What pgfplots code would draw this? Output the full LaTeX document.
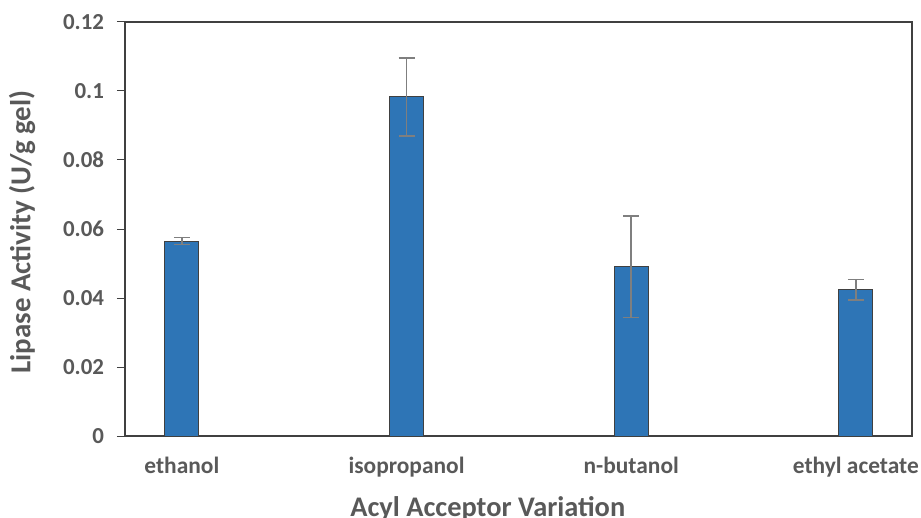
\documentclass[border=0pt]{standalone}
\usepackage{fontspec}
\setmainfont{Carlito}
\usepackage{pgfplots}
\pgfplotsset{compat=1.18}
\definecolor{barblue}{HTML}{2E75B6}
\definecolor{txtgray}{HTML}{595959}
\definecolor{axgray}{HTML}{404040}
\definecolor{errgray}{HTML}{7F7F7F}
\begin{document}
\begin{tikzpicture}
\useasboundingbox (-125bp,-82bp) rectangle (796bp,436bp);
\begin{axis}[
  at={(0,0)}, anchor=south west,
  scale only axis, width=787bp, height=414bp,
  xmin=-0.253, xmax=3.25, ymin=0, ymax=0.12,
  axis line style={axgray, line width=1.2pt},
  xtick={0,1,2,3},
  xticklabels={ethanol,isopropanol,n-butanol,ethyl acetate},
  major x tick style={draw=none},
  ytick={0,0.02,0.04,0.06,0.08,0.1,0.12},
  yticklabels={0,0.02,0.04,0.06,0.08,0.1,0.12},
  ytick pos=left,
  tick align=outside,
  major tick length=8bp,
  major y tick style={axgray, line width=1pt},
  yticklabel style={font=\fontsize{23}{23}\selectfont\bfseries, text=txtgray, xshift=-9.5bp},
  xticklabel style={font=\fontsize{23.5}{23.5}\selectfont\bfseries, text=txtgray, yshift=-10bp},
  clip=false,
]
\addplot[fill=barblue, draw=axgray, line width=0.8pt, ybar, bar width=0.151,
  error bars/.cd, y dir=both, y explicit,
  error bar style={errgray, line width=1.4pt},
  error mark options={rotate=90, mark size=8bp, errgray, line width=1.4pt}]
  coordinates {
  (0,0.0565) +- (0,0.0010)
  (1,0.0983) +- (0,0.0113)
  (2,0.0491) +- (0,0.0147)
  (3,0.0424) +- (0,0.0030)
  };
\node[font=\fontsize{28.5}{28.5}\selectfont\bfseries, text=txtgray, anchor=base]
  at ([yshift=-80bp]rel axis cs:0.461,0) {Acyl Acceptor Variation};
\node[font=\fontsize{29}{29}\selectfont\bfseries, text=txtgray, rotate=90, anchor=center, inner sep=0pt]
  at ([xshift=-103bp, yshift=-3bp]rel axis cs:0,0.5) {Lipase Activity (U/g gel)};
\end{axis}
\end{tikzpicture}
\end{document}
